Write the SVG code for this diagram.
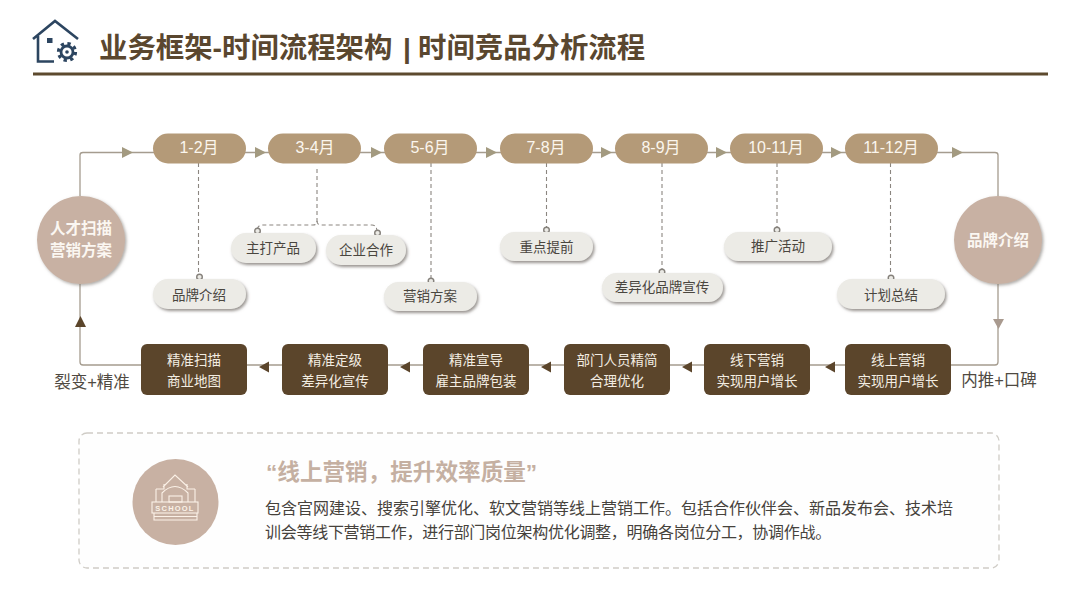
<svg xmlns="http://www.w3.org/2000/svg" width="1080" height="608" viewBox="0 0 1080 608">
<defs>
<style>
text{font-family:"Liberation Sans","Noto Sans CJK SC",sans-serif;text-anchor:middle}
.m{fill:#b49a78}
.mt{fill:#fbf6ee;font-size:16px}
.s{fill:#ecebe6;filter:url(#sh)}
.st{fill:#4a463f;font-size:13.500px}
.b{fill:#5b452b}
.bt{fill:#f3ede2;font-size:13.500px}
.c{fill:#c8b1a3}
.ct{fill:#fbf7f2;font-size:15.500px;font-weight:700}
.flow{fill:none;stroke:#a59c8f;stroke-width:1.3}
.dash{fill:none;stroke:#8b8680;stroke-width:1.1;stroke-dasharray:4 3}
.dot{fill:#ecebe6;stroke:#85817b;stroke-width:1.4}
.a1{fill:#a39a80}
.a2{fill:#5b452b}
.a3{fill:#a99a8f}
.ic{fill:none;stroke:#fbf1e7;stroke-width:1.1}
.lb{font-size:16.500px;fill:#4f4a42}
.bd{font-size:16px;fill:#46423c;text-anchor:start}
</style>
<filter id="sh" x="-20%" y="-30%" width="145%" height="170%"><feDropShadow dx="1.5" dy="2" stdDeviation="1.4" flood-color="#77716a" flood-opacity=".75"/></filter>
<filter id="sc" x="-20%" y="-20%" width="145%" height="145%"><feDropShadow dx="1.5" dy="1.5" stdDeviation="1.5" flood-color="#77716a" flood-opacity=".6"/></filter>
</defs>
<rect width="1080" height="608" fill="#ffffff"/>

<g id="header">
<path d="M33 39 L55 21 L78 39 M38 36 V61.500 H54" fill="none" stroke="#2c4560" stroke-width="2.600"/>
<rect x="47" y="38" width="5.500" height="5" fill="#2c4560"/>
<circle cx="67" cy="52" r="8.500" fill="none" stroke="#2c4560" stroke-width="3.200" stroke-dasharray="3.300 3.400"/>
<circle cx="67" cy="52" r="6" fill="none" stroke="#2c4560" stroke-width="2.800"/>
<circle cx="67" cy="52" r="1.800" fill="#2c4560"/>
<text y="58" style="font-size:28.400px;font-weight:700;fill:#5a472f;text-anchor:start"><tspan x="99">业务框架-时间流程架构</tspan><tspan x="403">|</tspan><tspan x="418">时间竞品分析流程</tspan></text>
<rect x="33" y="72.500" width="1015" height="3" fill="#5d4a2e"/>
</g>

<g id="connectors">
<path class="flow" d="M80 196 V155 Q80 152.500 83 152.500 H995 Q998 152.500 998 155 V196"/>
<path class="flow" d="M998 284 V362 Q998 365 995 365 H83 Q80 365 80 362 V284"/>
<path class="dash" d="M198.500 163 V276"/>
<path class="dash" d="M317 169 V221 Q317 225 313 225 H262 Q258 225 257 230"/>
<path class="dash" d="M317 221 Q317 225 321 225 H372 Q377 225 377 232"/>
<path class="dash" d="M431 163 V279"/>
<path class="dash" d="M546.500 163 V229"/>
<path class="dash" d="M662 163 V270"/>
<path class="dash" d="M777 163 V229"/>
<path class="dash" d="M890.500 163 V276"/>
<circle class="dot" cx="199.500" cy="277" r="2.800"/>
<circle class="dot" cx="257.500" cy="231" r="2.800"/>
<circle class="dot" cx="377.500" cy="233" r="2.800"/>
<circle class="dot" cx="431" cy="281" r="2.800"/>
<circle class="dot" cx="546.500" cy="230" r="2.800"/>
<circle class="dot" cx="662" cy="272" r="2.800"/>
<circle class="dot" cx="777" cy="230" r="2.800"/>
<circle class="dot" cx="891" cy="278" r="2.800"/>
<path class="a1" d="M122 147 L133 152.500 L122 158Z"/>
<path class="a1" d="M255 147 L266 152.500 L255 158Z"/>
<path class="a1" d="M371 147 L382 152.500 L371 158Z"/>
<path class="a1" d="M486 147 L497 152.500 L486 158Z"/>
<path class="a1" d="M601 147 L612 152.500 L601 158Z"/>
<path class="a1" d="M716 147 L727 152.500 L716 158Z"/>
<path class="a1" d="M831 147 L842 152.500 L831 158Z"/>
<path class="a1" d="M952 147 L963 152.500 L952 158Z"/>
<path class="a3" d="M993 319 H1004 L998.500 329Z"/>
<path class="a2" d="M75 327 H86 L80.500 316Z"/>
<path class="a2" d="M259 367 L269 361.500 V372.500Z"/>
<path class="a2" d="M400 367 L410 361.500 V372.500Z"/>
<path class="a2" d="M541 367 L551 361.500 V372.500Z"/>
<path class="a2" d="M682 367 L692 361.500 V372.500Z"/>
<path class="a2" d="M825 367 L835 361.500 V372.500Z"/>
</g>

<g id="m1"><rect class="m" x="153" y="133.500" width="93" height="30" rx="15"/><text class="mt" x="199" y="153">1-2月</text></g>
<g id="m2"><rect class="m" x="268" y="133.500" width="93" height="30" rx="15"/><text class="mt" x="315" y="153">3-4月</text></g>
<g id="m3"><rect class="m" x="384" y="133.500" width="93" height="30" rx="15"/><text class="mt" x="430" y="153">5-6月</text></g>
<g id="m4"><rect class="m" x="500" y="133.500" width="93" height="30" rx="15"/><text class="mt" x="546" y="153">7-8月</text></g>
<g id="m5"><rect class="m" x="615" y="133.500" width="93" height="30" rx="15"/><text class="mt" x="661" y="153">8-9月</text></g>
<g id="m6"><rect class="m" x="730" y="133.500" width="93" height="30" rx="15"/><text class="mt" x="776" y="153">10-11月</text></g>
<g id="m7"><rect class="m" x="845" y="133.500" width="93" height="30" rx="15"/><text class="mt" x="891" y="153">11-12月</text></g>

<g id="t1"><rect class="s" x="153" y="279" width="93" height="30" rx="15"/><text class="st" x="199" y="300">品牌介绍</text></g>
<g id="t2"><rect class="s" x="231" y="233" width="85" height="30" rx="15"/><text class="st" x="273" y="253">主打产品</text></g>
<g id="t3"><rect class="s" x="326" y="235" width="80" height="30" rx="15"/><text class="st" x="366" y="255">企业合作</text></g>
<g id="t4"><rect class="s" x="384" y="282" width="93" height="29" rx="14.500"/><text class="st" x="430" y="301">营销方案</text></g>
<g id="t5"><rect class="s" x="500" y="232" width="93" height="29" rx="14.500"/><text class="st" x="546.500" y="252">重点提前</text></g>
<g id="t6"><rect class="s" x="602" y="273" width="121" height="29" rx="14.500"/><text class="st" x="662" y="292">差异化品牌宣传</text></g>
<g id="t7"><rect class="s" x="724" y="232" width="108" height="29" rx="14.500"/><text class="st" x="778" y="251">推广活动</text></g>
<g id="t8"><rect class="s" x="837" y="279" width="108" height="30" rx="15"/><text class="st" x="891" y="300">计划总结</text></g>

<g id="left"><circle class="c" cx="81" cy="240" r="44" style="filter:url(#sc)"/><text class="ct" x="81" y="234">人才扫描</text><text class="ct" x="81" y="256">营销方案</text></g>
<g id="right"><circle class="c" cx="998" cy="240" r="44" style="filter:url(#sc)"/><text class="ct" x="998" y="246">品牌介绍</text></g>

<g id="b1"><rect class="b" x="141" y="344" width="106" height="51" rx="6"/><text class="bt" x="194" y="365">精准扫描</text><text class="bt" x="194" y="386">商业地图</text></g>
<g id="b2"><rect class="b" x="282" y="344" width="106" height="51" rx="6"/><text class="bt" x="335" y="365">精准定级</text><text class="bt" x="335" y="386">差异化宣传</text></g>
<g id="b3"><rect class="b" x="423" y="344" width="106" height="51" rx="6"/><text class="bt" x="476" y="365">精准宣导</text><text class="bt" x="476" y="386">雇主品牌包装</text></g>
<g id="b4"><rect class="b" x="564" y="344" width="106" height="51" rx="6"/><text class="bt" x="617" y="365">部门人员精简</text><text class="bt" x="617" y="386">合理优化</text></g>
<g id="b5"><rect class="b" x="704" y="344" width="106" height="51" rx="6"/><text class="bt" x="757" y="365">线下营销</text><text class="bt" x="757" y="386">实现用户增长</text></g>
<g id="b6"><rect class="b" x="845" y="344" width="106" height="51" rx="6"/><text class="bt" x="898" y="365">线上营销</text><text class="bt" x="898" y="386">实现用户增长</text></g>

<text class="lb" x="92" y="388">裂变+精准</text>
<text class="lb" x="999" y="386">内推+口碑</text>

<g id="panel">
<rect x="79" y="433" width="920" height="135" rx="8" fill="#fefefe" stroke="#cfccc6" stroke-width="1.300" stroke-dasharray="6 4"/>
<circle cx="175.500" cy="502" r="43" fill="#c8b1a3"/>
<g class="ic">
<path d="M163 487 L175 475 L188 487 M156 489 H164 V484 M187 484 V489 H195"/>
<path d="M156 489 V502 M195 489 V502 M162 502 V493 Q175 480 188 493 V502"/>
<rect x="169" y="496" width="13" height="6"/>
<rect x="152" y="502" width="46" height="11"/>
<path d="M154 513 V520 H197 V513 M154 516.500 H197"/>
</g>
<text x="175" y="511" style="font-size:7.500px;font-weight:700;fill:#fbf1e7;letter-spacing:1.200px">SCHOOL</text>
<text x="266" y="480" style="font-size:22.600px;font-weight:700;fill:#c5b0a2;text-anchor:start">“线上营销，提升效率质量”</text>
<text class="bd" x="265" y="514">包含官网建设、搜索引擎优化、软文营销等线上营销工作。包括合作伙伴会、新品发布会、技术培</text>
<text class="bd" x="265" y="538" style="letter-spacing:-.28px">训会等线下营销工作，进行部门岗位架构优化调整，明确各岗位分工，协调作战。</text>
</g>
</svg>
